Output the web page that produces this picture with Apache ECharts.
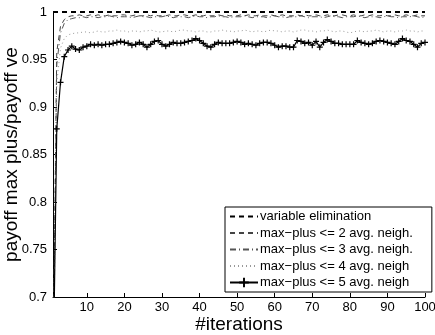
<!DOCTYPE html>
<html><head><meta charset="utf-8">
<script src="https://cdn.jsdelivr.net/npm/echarts@6/dist/echarts.min.js"></script>
<style>html,body{margin:0;padding:0;background:#fff}#c{width:435px;height:335px}</style>
</head><body><div id="c"></div>
<script>
const xTicks = [10,20,30,40,50,60,70,80,90,100];
const yTicks = [0.7,0.75,0.8,0.85,0.9,0.95,1];
const seriesNames = ["variable elimination","max\u2212plus <= 2 avg. neigh.","max\u2212plus <= 3 avg. neigh.","max\u2212plus <= 4 avg. neigh","max\u2212plus <= 5 avg. neigh"];
const ve = [1,1,1,1,1,1,1,1,1,1,1,1,1,1,1,1,1,1,1,1,1,1,1,1,1,1,1,1,1,1,1,1,1,1,1,1,1,1,1,1,1,1,1,1,1,1,1,1,1,1,1,1,1,1,1,1,1,1,1,1,1,1,1,1,1,1,1,1,1,1,1,1,1,1,1,1,1,1,1,1,1,1,1,1,1,1,1,1,1,1,1,1,1,1,1,1,1,1,1,1];
const mp2 = [0.62,0.958,0.985,0.992,0.995,0.996,0.996,0.997,0.996,0.996,0.997,0.996,0.997,0.996,0.996,0.997,0.996,0.996,0.997,0.997,0.996,0.996,0.997,0.996,0.996,0.997,0.996,0.997,0.996,0.996,0.996,0.997,0.996,0.996,0.997,0.997,0.996,0.996,0.997,0.996,0.996,0.997,0.996,0.996,0.997,0.996,0.997,0.996,0.996,0.996,0.997,0.996,0.997,0.996,0.996,0.997,0.996,0.996,0.997,0.996,0.996,0.997,0.996,0.996,0.996,0.997,0.996,0.997,0.996,0.996,0.997,0.996,0.996,0.997,0.996,0.996,0.997,0.997,0.996,0.996,0.997,0.996,0.996,0.997,0.996,0.997,0.996,0.996,0.997,0.996,0.996,0.997,0.996,0.996,0.997,0.996,0.996,0.997,0.996,0.996];
const mp3 = [0.60,0.945,0.978,0.988,0.992,0.993,0.994,0.994,0.995,0.994,0.995,0.995,0.994,0.995,0.995,0.996,0.995,0.994,0.995,0.995,0.995,0.994,0.995,0.996,0.995,0.995,0.994,0.995,0.995,0.995,0.996,0.995,0.994,0.995,0.995,0.995,0.994,0.995,0.996,0.995,0.995,0.994,0.995,0.995,0.996,0.995,0.995,0.994,0.995,0.995,0.995,0.996,0.995,0.994,0.995,0.995,0.995,0.994,0.995,0.996,0.995,0.995,0.994,0.995,0.995,0.995,0.996,0.995,0.994,0.995,0.995,0.995,0.994,0.995,0.996,0.995,0.995,0.994,0.995,0.995,0.995,0.996,0.995,0.994,0.995,0.995,0.995,0.994,0.995,0.996,0.995,0.995,0.994,0.995,0.995,0.995,0.996,0.995,0.994,0.995];
const mp4 = [0.58,0.925,0.962,0.972,0.976,0.977,0.978,0.978,0.979,0.979,0.978,0.979,0.980,0.979,0.979,0.980,0.980,0.981,0.980,0.980,0.979,0.980,0.980,0.979,0.980,0.980,0.981,0.980,0.979,0.979,0.980,0.980,0.979,0.980,0.981,0.981,0.980,0.980,0.979,0.980,0.980,0.979,0.979,0.980,0.980,0.981,0.980,0.980,0.979,0.980,0.980,0.981,0.980,0.979,0.980,0.980,0.979,0.980,0.981,0.980,0.980,0.979,0.980,0.980,0.979,0.980,0.981,0.981,0.980,0.980,0.979,0.980,0.980,0.981,0.980,0.979,0.980,0.980,0.979,0.978,0.979,0.980,0.980,0.979,0.980,0.980,0.981,0.980,0.979,0.980,0.980,0.979,0.980,0.980,0.981,0.980,0.980,0.979,0.980,0.980];
const mp5 = [0.60,0.877,0.926,0.953,0.960,0.964,0.961,0.960,0.963,0.964,0.966,0.965,0.966,0.965,0.966,0.966,0.967,0.968,0.969,0.968,0.967,0.965,0.966,0.968,0.966,0.963,0.966,0.969,0.970,0.966,0.964,0.966,0.968,0.967,0.967,0.968,0.969,0.970,0.972,0.970,0.967,0.964,0.963,0.966,0.968,0.967,0.967,0.967,0.968,0.969,0.968,0.966,0.967,0.966,0.965,0.967,0.968,0.968,0.967,0.965,0.963,0.964,0.964,0.963,0.963,0.970,0.969,0.967,0.968,0.965,0.969,0.963,0.968,0.971,0.969,0.967,0.967,0.966,0.966,0.966,0.966,0.970,0.968,0.967,0.966,0.967,0.969,0.970,0.969,0.968,0.967,0.966,0.969,0.972,0.970,0.969,0.966,0.963,0.967,0.968];

const iterations = ve.map((_, i) => i + 1);
const pairs = arr => arr.map((v, i) => [iterations[i], v]);
const FONT = 'Liberation Sans, Arial, Helvetica, sans-serif';
const plus = 'path://M4,0H6V4H10V6H6V10H4V6H0V4H4Z';
const hidden = {opacity: 0};

const chart = echarts.init(document.getElementById('c'), null, {renderer: 'canvas'});
chart.setOption({
  animation: false,
  backgroundColor: '#fff',
  textStyle: {fontFamily: FONT},
  grid: {left: 53, right: 10, top: 12, bottom: 38, containLabel: false, outerBoundsMode: 'none'},
  xAxis: {
    type: 'value', min: 1, max: 100,
    name: '#iterations', nameLocation: 'middle', nameGap: 18, nameMoveOverlap: false,
    nameTextStyle: {color: '#000', fontSize: 19, fontFamily: FONT},
    axisLine: {show: true, lineStyle: {color: '#000', width: 1}},
    axisTick: {show: true, inside: true, length: 4, customValues: xTicks, lineStyle: {color: '#000'}},
    axisLabel: {color: '#000', fontSize: 13, fontFamily: FONT, margin: 4, customValues: xTicks},
    splitLine: {show: false}
  },
  yAxis: {
    type: 'value', min: 0.7, max: 1, interval: 0.05,
    name: 'payoff max plus/payoff ve', nameLocation: 'middle', nameGap: 32, nameMoveOverlap: false,
    nameTextStyle: {color: '#000', fontSize: 19, fontFamily: FONT},
    axisLine: {show: true, lineStyle: {color: '#000', width: 1}},
    axisTick: {show: true, inside: true, length: 4, lineStyle: {color: '#000'}},
    axisLabel: {color: '#000', fontSize: 13, fontFamily: FONT, margin: 6,
      formatter: v => { const t = yTicks.find(k => Math.abs(k - v) < 1e-9); return t === undefined ? '' : String(t); }},
    splitLine: {show: false}
  },
  legend: {
    orient: 'vertical', left: 225, top: 207,
    backgroundColor: '#fff', borderColor: '#000', borderWidth: 1,
    padding: [3, 19, 3, 4], itemGap: 3.5, itemWidth: 28, itemHeight: 12,
    textStyle: {color: '#000', fontSize: 13, fontFamily: FONT, padding: [0,0,0,-3]},
    data: [
      {name: seriesNames[0], itemStyle: hidden},
      {name: seriesNames[1], itemStyle: hidden},
      {name: seriesNames[2], itemStyle: hidden},
      {name: seriesNames[3], itemStyle: hidden},
      {name: seriesNames[4]}
    ]
  },
  series: [
    {name: seriesNames[0], type: 'line', data: pairs(ve), symbol: 'none',
     lineStyle: {color: '#000', width: 2, type: [5, 4]}, itemStyle: {color: '#000'}, z: 5},
    {name: seriesNames[1], type: 'line', data: pairs(mp2), symbol: 'none',
     lineStyle: {color: '#444', width: 1, type: [5, 4]}, itemStyle: {color: '#444'}},
    {name: seriesNames[2], type: 'line', data: pairs(mp3), symbol: 'none',
     lineStyle: {color: '#555', width: 1, type: [6, 3, 1, 3]}, itemStyle: {color: '#555'}},
    {name: seriesNames[3], type: 'line', data: pairs(mp4), symbol: 'none',
     lineStyle: {color: '#999', width: 1, type: [1, 3]}, itemStyle: {color: '#999'}},
    {name: seriesNames[4], type: 'line', data: pairs(mp5), symbol: plus, symbolSize: 6, showSymbol: true,
     lineStyle: {color: '#000', width: 1.2}, itemStyle: {color: '#000'}, z: 4}
  ]
});
</script></body></html>
